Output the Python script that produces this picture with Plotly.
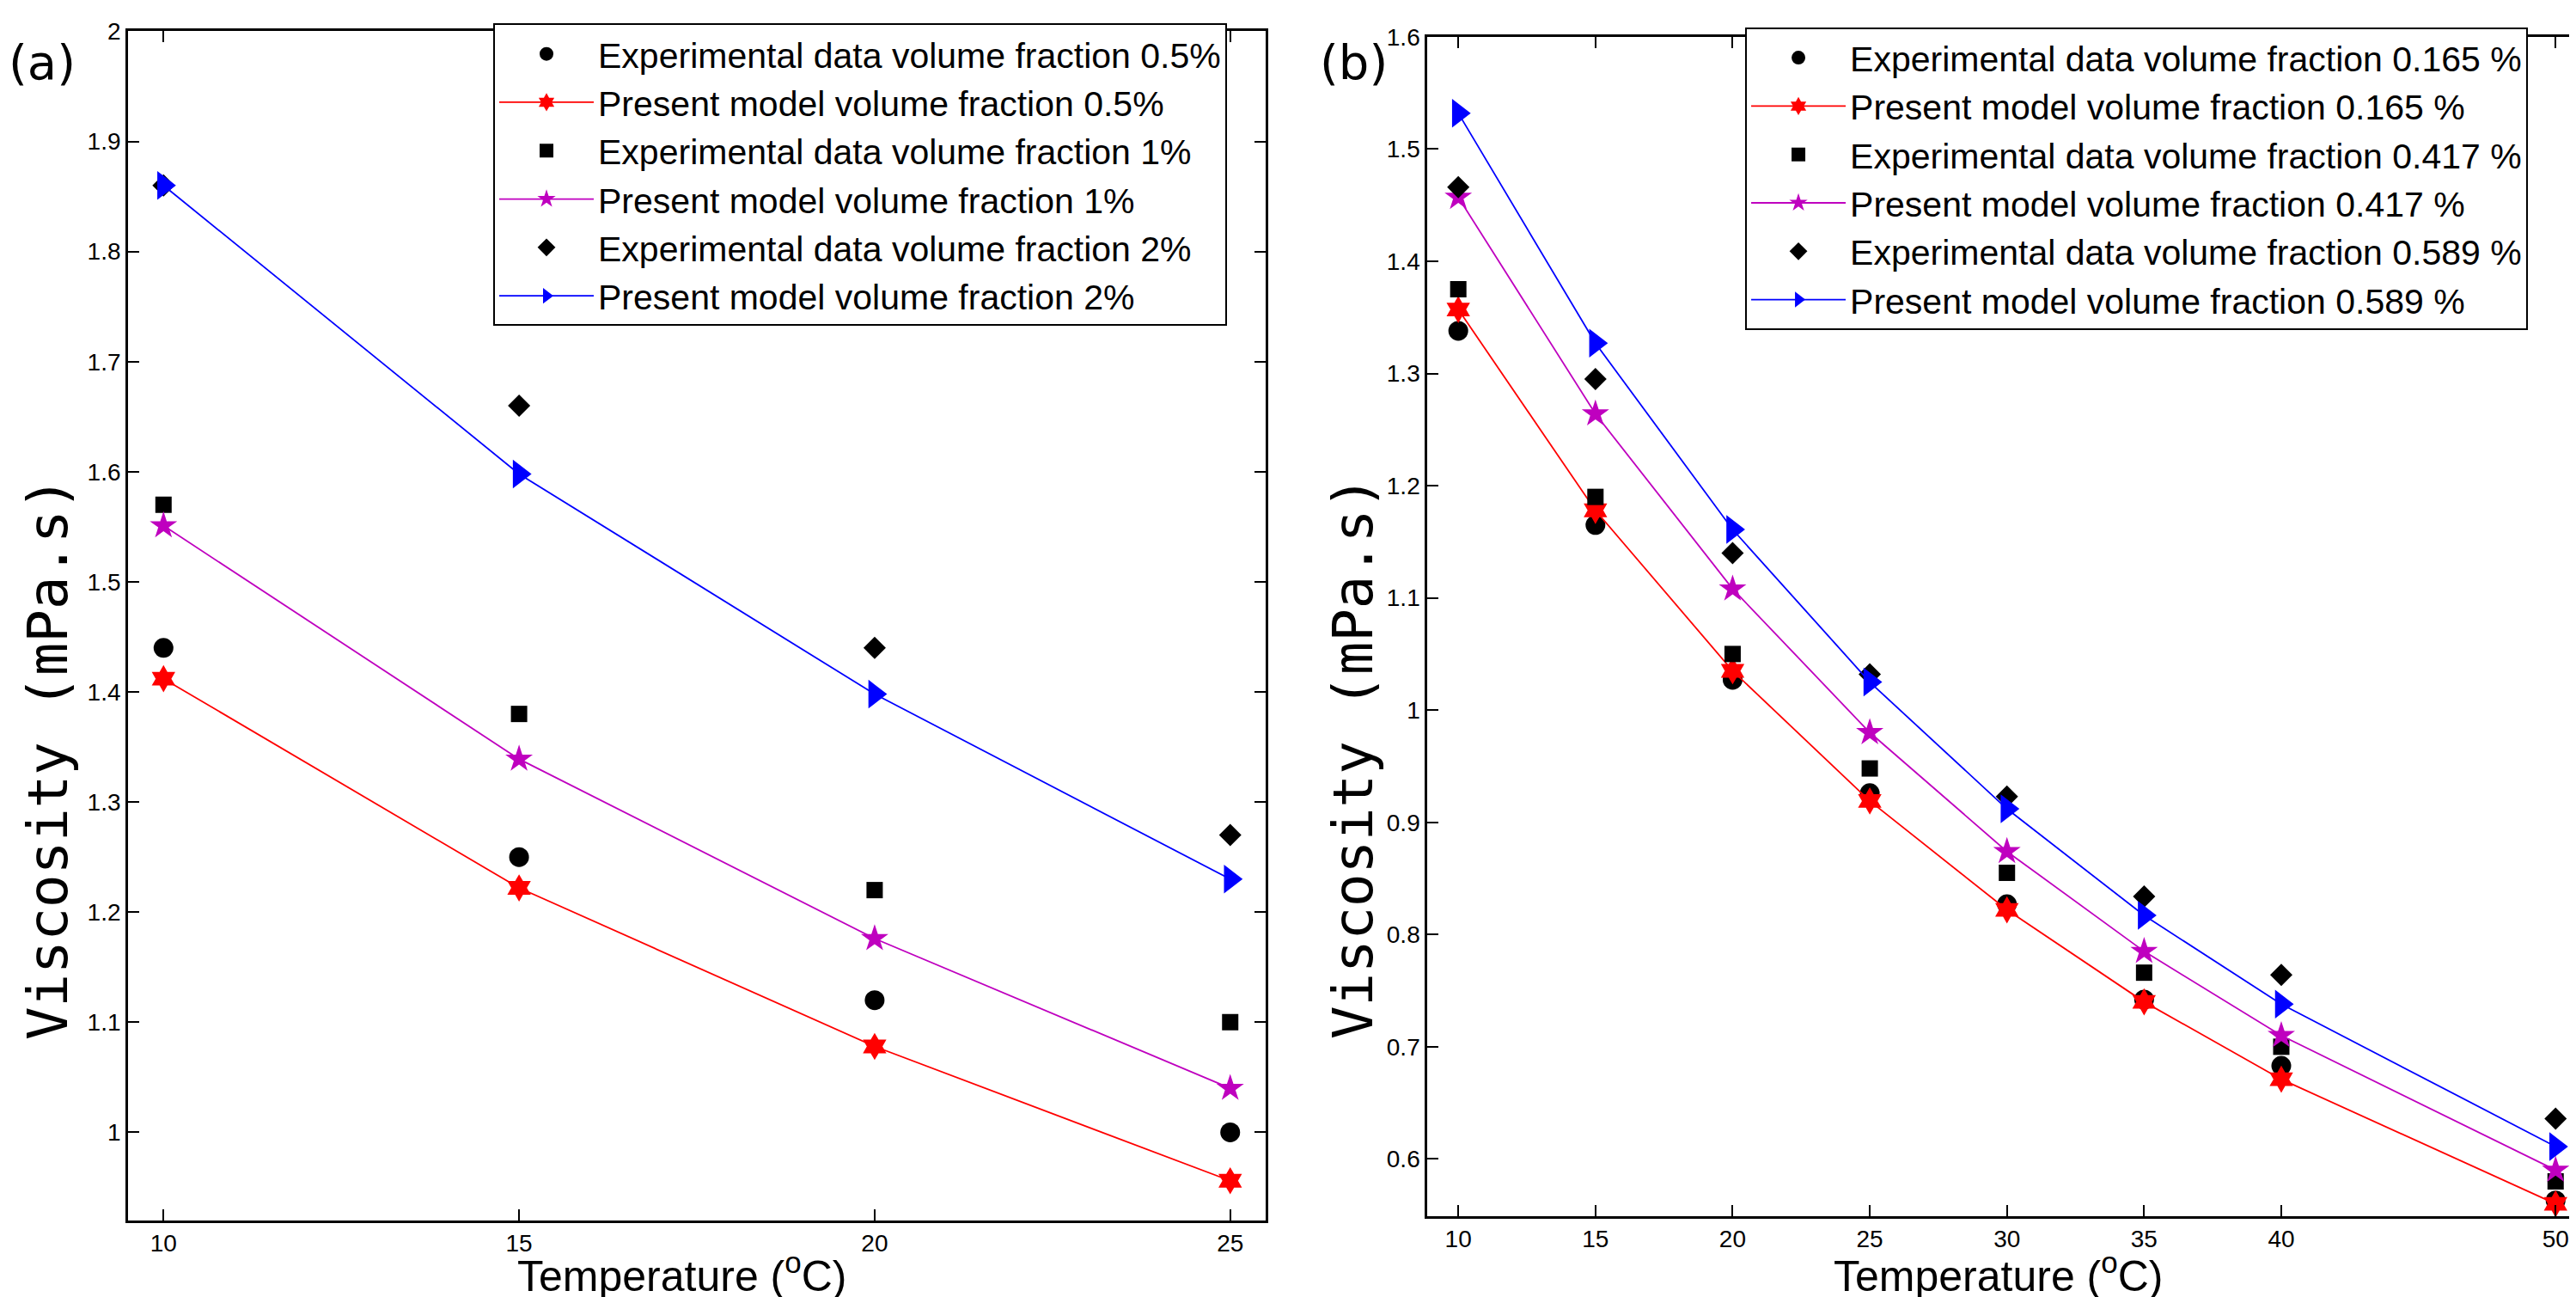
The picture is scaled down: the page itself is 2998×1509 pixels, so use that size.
import plotly.graph_objects as go

# ---------------- data: panel (a) ----------------
temp_a = [10, 15, 20, 25]
exp_a_05 = [1.44, 1.25, 1.12, 1.00]
mod_a_05 = [1.412, 1.222, 1.078, 0.956]
exp_a_1 = [1.57, 1.38, 1.22, 1.10]
mod_a_1 = [1.551, 1.339, 1.176, 1.040]
exp_a_2 = [1.86, 1.66, 1.44, 1.27]
mod_a_2 = [1.860, 1.598, 1.398, 1.230]
xticks_a = [10, 15, 20, 25]
yticks_a = [1.0, 1.1, 1.2, 1.3, 1.4, 1.5, 1.6, 1.7, 1.8, 1.9, 2.0]
ylabels_a = ["1", "1.1", "1.2", "1.3", "1.4", "1.5", "1.6", "1.7", "1.8", "1.9", "2"]

# ---------------- data: panel (b) ----------------
temp_b = [10, 15, 20, 25, 30, 35, 40, 50]
exp_b_165 = [1.338, 1.165, 1.027, 0.926, 0.827, 0.742, 0.683, 0.563]
mod_b_165 = [1.357, 1.178, 1.035, 0.919, 0.822, 0.740, 0.671, 0.560]
exp_b_417 = [1.375, 1.190, 1.050, 0.948, 0.855, 0.766, 0.700, 0.580]
mod_b_417 = [1.457, 1.264, 1.108, 0.980, 0.874, 0.785, 0.710, 0.590]
exp_b_589 = [1.466, 1.295, 1.140, 1.032, 0.923, 0.834, 0.764, 0.636]
mod_b_589 = [1.532, 1.327, 1.161, 1.025, 0.912, 0.817, 0.738, 0.611]
xticks_b = [10, 15, 20, 25, 30, 35, 40, 50]
yticks_b = [0.6, 0.7, 0.8, 0.9, 1.0, 1.1, 1.2, 1.3, 1.4, 1.5, 1.6]
ylabels_b = ["0.6", "0.7", "0.8", "0.9", "1", "1.1", "1.2", "1.3", "1.4", "1.5", "1.6"]

labels_a = ["Experimental data volume fraction 0.5%", "Present model volume fraction 0.5%",
            "Experimental data volume fraction 1%", "Present model volume fraction 1%",
            "Experimental data volume fraction 2%", "Present model volume fraction 2%"]
labels_b = ["Experimental data volume fraction 0.165 %", "Present model volume fraction 0.165 %",
            "Experimental data volume fraction 0.417 %", "Present model volume fraction 0.417 %",
            "Experimental data volume fraction 0.589 %", "Present model volume fraction 0.589 %"]

RED = "#ff0000"
MAG = "#bf00bf"
BLUE = "#0000ff"
TICKFONT = "Liberation Sans Narrow, Arial Narrow, Liberation Sans, Arial, sans-serif"
TITLEFONT = "DejaVu Sans, Verdana, sans-serif"
MONOFONT = "DejaVu Sans Mono, Liberation Mono, monospace"

fig = go.Figure()

EXP_SYM = ["circle", "square", "diamond"]
EXP_SIZE = [23, 19, 20]
MOD_SYM = ["hexagram", "star", "triangle-right"]
MOD_SIZE = [24, 24, 29]
MOD_COL = [RED, MAG, BLUE]


def add_panel(x, series, labels, xa, ya, legend):
    exps = [series[0], series[2], series[4]]
    mods = [series[1], series[3], series[5]]
    for i in range(3):
        fig.add_trace(go.Scatter(
            x=x, y=exps[i], mode="markers", name=labels[2 * i],
            marker=dict(symbol=EXP_SYM[i], color="black", size=EXP_SIZE[i], line=dict(width=0)),
            xaxis=xa, yaxis=ya, legend=legend))
        fig.add_trace(go.Scatter(
            x=x, y=mods[i], mode="lines+markers", name=labels[2 * i + 1],
            line=dict(color=MOD_COL[i], width=1.8),
            marker=dict(symbol=MOD_SYM[i], color=MOD_COL[i], size=MOD_SIZE[i],
                        line=dict(width=0)),
            xaxis=xa, yaxis=ya, legend=legend))


add_panel(temp_a, [exp_a_05, mod_a_05, exp_a_1, mod_a_1, exp_a_2, mod_a_2], labels_a, "x", "y", "legend")
add_panel(temp_b, [exp_b_165, mod_b_165, exp_b_417, mod_b_417, exp_b_589, mod_b_589], labels_b, "x2", "y2", "legend2")

axis_common = dict(showline=True, linecolor="black", linewidth=2.5, mirror="ticks",
                   ticks="inside", ticklen=13, tickwidth=2, tickcolor="black",
                   showgrid=False, zeroline=False,
                   tickfont=dict(family=TICKFONT, size=28, color="black"))

legend_common = dict(bgcolor="white", bordercolor="black", borderwidth=2,
                     font=dict(family=TICKFONT, size=41, color="black"),
                     xanchor="left", yanchor="top", itemwidth=110, tracegroupgap=0)

fig.update_layout(
    width=2998, height=1509,
    margin=dict(l=0, r=0, t=0, b=0),
    paper_bgcolor="white", plot_bgcolor="white",
    showlegend=True,
    xaxis=dict(domain=[0.047, 0.4887], range=[9.5, 25.5], tickvals=xticks_a,
               anchor="y", **axis_common),
    yaxis=dict(domain=[0.065, 0.991], range=[0.92, 2.0], tickvals=yticks_a,
               ticktext=ylabels_a, anchor="x", **axis_common),
    xaxis2=dict(domain=[0.5514, 0.999], range=[8.87, 50.9], tickvals=xticks_b,
                anchor="y2", **axis_common),
    yaxis2=dict(domain=[0.0683, 0.9867], range=[0.549, 1.6], tickvals=yticks_b,
                ticktext=ylabels_b, anchor="x2", **axis_common),
    legend=dict(x=0.1888, y=0.997, **legend_common),
    legend2=dict(x=0.6748, y=0.994, **legend_common),
)

annots = [
    dict(text="(a)", x=0.0, y=0.99, xanchor="left", yanchor="top",
         font=dict(family=TITLEFONT, size=56, color="black")),
    dict(text="(b)", x=0.509, y=0.99, xanchor="left", yanchor="top",
         font=dict(family=TITLEFONT, size=56, color="black")),
    dict(text="Temperature (<sup>o</sup>C)", x=0.262, y=0.024, xanchor="center", yanchor="middle",
         font=dict(family=TICKFONT, size=50, color="black")),
    dict(text="Temperature (<sup>o</sup>C)", x=0.773, y=0.024, xanchor="center", yanchor="middle",
         font=dict(family=TICKFONT, size=50, color="black")),
    dict(text="Viscosity (mPa.s)", x=0.016, y=0.425, textangle=-90, xanchor="center", yanchor="middle",
         font=dict(family=MONOFONT, size=64, color="black")),
    dict(text="Viscosity (mPa.s)", x=0.5227, y=0.425, textangle=-90, xanchor="center", yanchor="middle",
         font=dict(family=MONOFONT, size=64, color="black")),
]
for a in annots:
    a.update(xref="paper", yref="paper", showarrow=False)
fig.update_layout(annotations=annots)

fig.write_html("out.html")
